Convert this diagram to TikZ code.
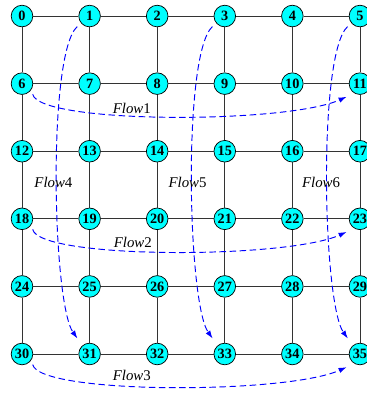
\documentclass[tikz,border=0pt]{standalone}
\usepackage{fontspec}
\setmainfont{Liberation Serif}
\usepackage{tikz}
\usetikzlibrary{arrows.meta}
\definecolor{routercyan}{RGB}{0,255,255}
\definecolor{flowblue}{RGB}{0,0,255}

\begin{document}
\begin{tikzpicture}[
    vtx/.style={circle, draw=black, fill=routercyan, minimum size=6.4mm, inner sep=0pt, line width=0.6pt, font=\fontsize{12}{12}\selectfont\bfseries},
    link/.style={draw=black!80, line width=0.6pt},
    flow/.style={flowblue, line width=0.8pt, dash pattern=on 5.5pt off 3pt, -{Latex[length=2.4mm, width=1.6mm]}, shorten <=1.5mm, shorten >=2.5mm},
    flowlbl/.style={font=\fontsize{12.5}{14}\selectfont}
]
  \useasboundingbox (-0.651,-1.154) rectangle (10.208,10.475);

  % mesh of routers
  \foreach \r in {0,...,5}
    \foreach \c in {0,...,5} {
      \pgfmathtruncatemacro{\k}{6*\r+\c}
      \node[vtx] (n\k) at (2*\c, 10-2*\r) {\k};
    }

  \foreach \r in {0,...,5}
    \foreach \c in {0,...,4} {
      \pgfmathtruncatemacro{\a}{6*\r+\c}
      \pgfmathtruncatemacro{\b}{\a+1}
      \draw[link] (n\a) -- (n\b);
    }
  \foreach \r in {0,...,4}
    \foreach \c in {0,...,5} {
      \pgfmathtruncatemacro{\a}{6*\r+\c}
      \pgfmathtruncatemacro{\b}{\a+6}
      \draw[link] (n\a) -- (n\b);
    }

  % horizontal flows
  \draw[flow] (n6.-30) .. controls +(0.21,-1.03) and +(-2.03,-0.91) .. (n11.-120);
  \draw[flow] (n18.-30) .. controls +(0.21,-1.03) and +(-2.03,-0.91) .. (n23.-120);
  \draw[flow] (n30.-30) .. controls +(0.21,-1.03) and +(-2.03,-0.91) .. (n35.-120);

  % vertical flows
  \draw[flow] (n1.-140) .. controls +(-1.0,-0.89) and +(-0.89,1.25) .. (n31.130);
  \draw[flow] (n3.-140) .. controls +(-1.0,-0.89) and +(-0.89,1.25) .. (n33.130);
  \draw[flow] (n5.-140) .. controls +(-1.0,-0.89) and +(-0.89,1.25) .. (n35.130);

  \node[flowlbl] (l1) at (3.25,7.28) {\textit{Flow}1};
  \node[flowlbl] (l2) at (3.28,3.29) {\textit{Flow}2};
  \node[flowlbl] (l3) at (3.25,-0.62) {\textit{Flow}3};
  \node[flowlbl] (l4) at (0.93,5.07) {\textit{Flow}4};
  \node[flowlbl] (l5) at (4.90,5.07) {\textit{Flow}5};
  \node[flowlbl] (l6) at (8.85,5.07) {\textit{Flow}6};
\end{tikzpicture}
\end{document}
